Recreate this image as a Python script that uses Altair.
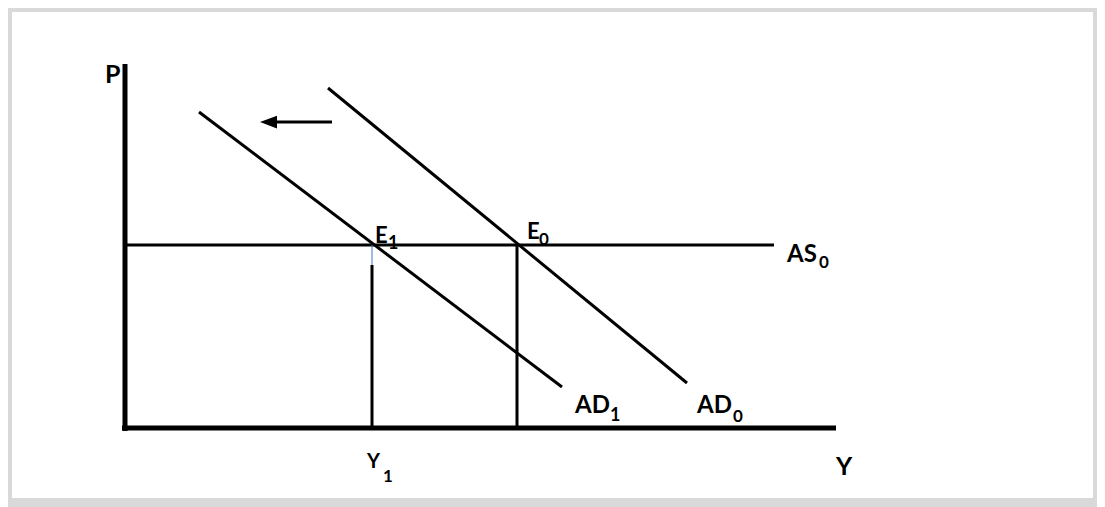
import altair as alt
import pandas as pd

# ---- diagram values (Y = output, P = price level; origin at the axis corner) ----
# axes
axis_x = [0, -3]
axis_y = [364, 0]
axis_x2 = [0, 711]
axis_y2 = [-3, 0]

# curves: AS0, AD0, AD1 and the left-shift arrow shaft
curve_name = ["AS0", "AD0", "AD1", "shift"]
curve_x = [0, 203, 74, 207]
curve_y = [183, 340, 316, 306]
curve_x2 = [649, 562, 437, 143]
curve_y2 = [183, 45, 41, 306]

# equilibrium output levels
Y0 = 392
Y1 = 247
P_eq = 183
drop_x = [Y0, Y1]
drop_y = [0, 0]
drop_y2 = [P_eq, 163]
guide_x = [Y1]
guide_y = [163]
guide_y2 = [P_eq]

# arrow head
head_x = [143.5]
head_y = [306]

# labels
lab_text = ["P", "Y", "Y", "E", "E", "AS", "AD", "AD"]
lab_x = [-20, 711, 242, 250, 402, 662, 450, 572]
lab_y = [345, -47, -40, 185, 189, 166, 15, 15]
lab_fs = [25, 25, 20, 22, 22, 24, 24, 24]
sub_text = ["1", "1", "0", "0", "1", "0"]
sub_x = [258, 263, 414, 694, 485, 608]
sub_y = [-54, 179, 183, 160, 7, 6]
sub_fs = [17, 18, 17, 17, 18, 17]

X_DOM = [-113, 968]
Y_DOM = [-70, 416]

xs = alt.Scale(domain=X_DOM, nice=False, zero=False)
ys = alt.Scale(domain=Y_DOM, nice=False, zero=False)


def X(f="x"):
    return alt.X(f"{f}:Q", scale=xs, axis=None)


def Yc(f="y"):
    return alt.Y(f"{f}:Q", scale=ys, axis=None)


axes_df = pd.DataFrame({"x": axis_x, "y": axis_y, "x2": axis_x2, "y2": axis_y2})
curves_df = pd.DataFrame({"name": curve_name, "x": curve_x, "y": curve_y,
                          "x2": curve_x2, "y2": curve_y2})
drops_df = pd.DataFrame({"x": drop_x, "y": drop_y, "y2": drop_y2})
guide_df = pd.DataFrame({"x": guide_x, "y": guide_y, "y2": guide_y2})
head_df = pd.DataFrame({"x": head_x, "y": head_y})
lab_df = pd.DataFrame({"t": lab_text, "x": lab_x, "y": lab_y, "fs": lab_fs})
sub_df = pd.DataFrame({"t": sub_text, "x": sub_x, "y": sub_y, "fs": sub_fs})

axes = alt.Chart(axes_df).mark_rule(color="black", strokeWidth=5).encode(
    x=X(), y=Yc(), x2="x2:Q", y2="y2:Q")

curves = alt.Chart(curves_df).mark_rule(color="black", strokeWidth=3).encode(
    x=X(), y=Yc(), x2="x2:Q", y2="y2:Q")

drops = alt.Chart(drops_df).mark_rule(color="black", strokeWidth=3).encode(
    x=X(), y=Yc(), y2="y2:Q")

guide = alt.Chart(guide_df).mark_rule(color="#4472c4", strokeWidth=1).encode(
    x=X(), y=Yc(), y2="y2:Q")

head = alt.Chart(head_df).mark_point(
    shape="M -1 0 L 1 -0.75 L 1 0.75 Z", filled=True, color="black",
    opacity=1, size=289, strokeWidth=0).encode(x=X(), y=Yc())

labels = alt.Chart(lab_df).mark_text(
    align="left", baseline="alphabetic", font="Lato", fontWeight="bold",
    color="black").encode(
    x=X(), y=Yc(), text="t:N", size=alt.Size("fs:Q", scale=None, legend=None))

subs = alt.Chart(sub_df).mark_text(
    align="left", baseline="alphabetic", font="Lato", fontWeight="bold",
    color="black").encode(
    x=X(), y=Yc(), text="t:N", size=alt.Size("fs:Q", scale=None, legend=None))

chart = alt.layer(axes, curves, drops, guide, head, labels, subs).properties(
    width=1089, height=499,
    autosize=alt.AutoSizeParams(type="fit", contains="padding"),
    padding={"left": 4, "top": 4, "right": 4, "bottom": 9},
    background="#d9d9d9",
).configure_view(fill="white", strokeWidth=0)

chart.save("out.html", embed_options={"renderer": "svg", "actions": False})
